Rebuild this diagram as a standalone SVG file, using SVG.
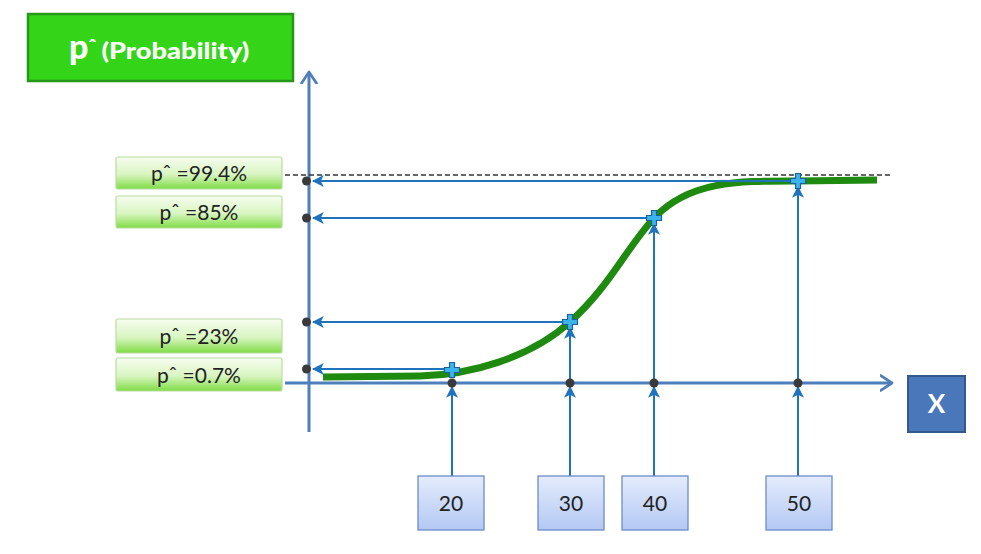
<svg xmlns="http://www.w3.org/2000/svg" width="981" height="554" viewBox="0 0 981 554">
<defs>
<linearGradient id="gGreen" x1="0" y1="0" x2="0" y2="1">
<stop offset="0" stop-color="#f7fdf0"/><stop offset="0.55" stop-color="#d8f5c0"/><stop offset="1" stop-color="#7fdc45"/>
</linearGradient>
<linearGradient id="gBlue" x1="0" y1="0" x2="0" y2="1">
<stop offset="0" stop-color="#e4ecfc"/><stop offset="1" stop-color="#b3c8f4"/>
</linearGradient>
<marker id="ah" viewBox="0 0 10 10" refX="9" refY="5" markerWidth="6" markerHeight="6" orient="auto-start-reverse" markerUnits="strokeWidth">
<path d="M0,0 L10,5 L0,10 L2.5,5 z" fill="#1f73bd"/>
</marker>
<marker id="axh" viewBox="0 0 12 14" refX="10" refY="7" markerWidth="5" markerHeight="5.8" orient="auto" markerUnits="strokeWidth">
<path d="M1,1 L10,7 L1,13" fill="none" stroke="#4f7ebb" stroke-width="2.2" stroke-linecap="round" stroke-linejoin="round"/>
</marker>
</defs>
<style>
.lbl{fill:url(#gGreen);stroke:#b9dca0;stroke-width:1.2}
.lt{font-family:Lato,"Open Sans",sans-serif;font-size:21px;fill:#222;text-anchor:middle}
.xb{fill:url(#gBlue);stroke:#6d8dc5;stroke-width:1.3}
.xt{font-family:Lato,"Open Sans",sans-serif;font-size:21px;fill:#222;text-anchor:middle}
.conn{stroke:#1f73bd;stroke-width:2;fill:none;marker-end:url(#ah)}
.axis{stroke:#4f7ebb;stroke-width:3;fill:none;marker-end:url(#axh)}
.dot{fill:#3a3a3a}
.cross{fill:#3bb4ec;stroke:#1d5f99;stroke-width:1.2}
</style>

<g id="title">
<rect x="28" y="14" width="265" height="67" fill="#34d418" stroke="#28961a" stroke-width="2.5"/>
<text x="69" y="59" font-family="Lato,'Open Sans',sans-serif" font-weight="900" fill="#fff"><tspan font-size="34">p</tspan><tspan font-size="20" dx="0" dy="-5">ˆ</tspan><tspan font-size="23" dx="5" dy="5" textLength="148" lengthAdjust="spacingAndGlyphs">(Probability)</tspan></text>
</g>

<g id="axes">
<line class="axis" x1="309" y1="432" x2="309" y2="72"/>
<line class="axis" x1="285" y1="383" x2="892" y2="383"/>
<line x1="285" y1="175" x2="893" y2="175" stroke="#333" stroke-width="1.3" stroke-dasharray="5,3"/>
</g>

<g id="curve">
<path d="M323,377 L420,376 C470,375 530,358 570,322 C610,286 625,250 654,218 C690,180 740,181 798,181 L877,180" fill="none" stroke="#1e8a10" stroke-width="7"/>
</g>

<g id="connectors">
<line class="conn" x1="796" y1="181" x2="313" y2="181"/>
<line class="conn" x1="652" y1="218" x2="313" y2="218"/>
<line class="conn" x1="568" y1="322" x2="313" y2="322"/>
<line class="conn" x1="450" y1="369" x2="313" y2="369"/>
<line class="conn" x1="452" y1="476" x2="452" y2="387"/>
<line class="conn" x1="570" y1="476" x2="570" y2="387"/>
<line class="conn" x1="654" y1="476" x2="654" y2="387"/>
<line class="conn" x1="798" y1="476" x2="798" y2="387"/>
<line class="conn" x1="570" y1="383" x2="570" y2="328"/>
<line class="conn" x1="654" y1="383" x2="654" y2="224"/>
<line class="conn" x1="798" y1="383" x2="798" y2="187"/>
</g>

<g id="dots">
<circle class="dot" cx="306.5" cy="181" r="4.5"/>
<circle class="dot" cx="306.5" cy="218" r="4.5"/>
<circle class="dot" cx="306.5" cy="322" r="4.5"/>
<circle class="dot" cx="306.5" cy="369" r="4.5"/>
<circle class="dot" cx="452" cy="383" r="4.5"/>
<circle class="dot" cx="570" cy="383" r="4.5"/>
<circle class="dot" cx="654" cy="383" r="4.5"/>
<circle class="dot" cx="798" cy="383" r="4.5"/>
</g>

<g id="crosses">
<path class="cross" transform="translate(452,370)" d="M-2.5,-7.5 H2.5 V-2.5 H7.5 V2.5 H2.5 V7.5 H-2.5 V2.5 H-7.5 V-2.5 H-2.5 Z"/>
<path class="cross" transform="translate(570,322)" d="M-2.5,-7.5 H2.5 V-2.5 H7.5 V2.5 H2.5 V7.5 H-2.5 V2.5 H-7.5 V-2.5 H-2.5 Z"/>
<path class="cross" transform="translate(654,218)" d="M-2.5,-7.5 H2.5 V-2.5 H7.5 V2.5 H2.5 V7.5 H-2.5 V2.5 H-7.5 V-2.5 H-2.5 Z"/>
<path class="cross" transform="translate(798,181)" d="M-2.5,-7.5 H2.5 V-2.5 H7.5 V2.5 H2.5 V7.5 H-2.5 V2.5 H-7.5 V-2.5 H-2.5 Z"/>
</g>

<g id="label-994">
<rect class="lbl" x="116" y="157" width="166" height="32" rx="2"/>
<text class="lt" x="199" y="181">pˆ =99.4%</text>
</g>
<g id="label-85">
<rect class="lbl" x="116" y="196" width="166" height="32" rx="2"/>
<text class="lt" x="199" y="220">pˆ =85%</text>
</g>
<g id="label-23">
<rect class="lbl" x="116" y="319" width="166" height="34" rx="2"/>
<text class="lt" x="199" y="344">pˆ =23%</text>
</g>
<g id="label-07">
<rect class="lbl" x="116" y="358" width="166" height="33" rx="2"/>
<text class="lt" x="199" y="383">pˆ =0.7%</text>
</g>

<g id="x20"><rect class="xb" x="418" y="476" width="66" height="54"/><text class="xt" x="451" y="511">20</text></g>
<g id="x30"><rect class="xb" x="538" y="476" width="66" height="54"/><text class="xt" x="571" y="511">30</text></g>
<g id="x40"><rect class="xb" x="622" y="476" width="66" height="54"/><text class="xt" x="655" y="511">40</text></g>
<g id="x50"><rect class="xb" x="766" y="476" width="66" height="54"/><text class="xt" x="799" y="511">50</text></g>

<g id="xlabel">
<rect x="908" y="376" width="57" height="56" fill="#4a77b9" stroke="#34598f" stroke-width="2"/>
<text x="936.5" y="413" font-family="Lato,'Open Sans',sans-serif" font-weight="bold" font-size="26" fill="#fff" text-anchor="middle">X</text>
</g>
</svg>
